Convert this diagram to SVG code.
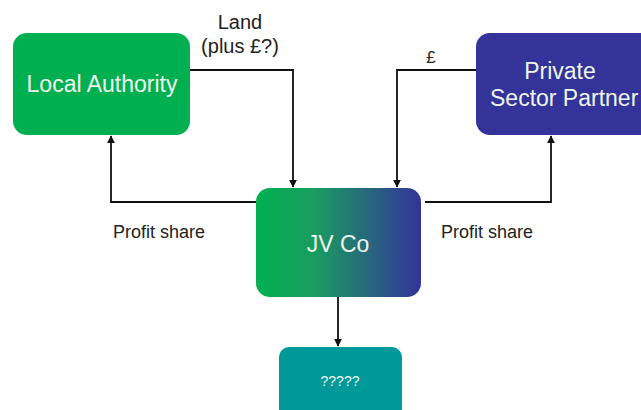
<svg xmlns="http://www.w3.org/2000/svg" width="641" height="410" viewBox="0 0 641 410">
<defs>
<linearGradient id="jvgrad" x1="0" y1="0" x2="1" y2="0">
<stop offset="0" stop-color="#00B050"/>
<stop offset="0.35" stop-color="#1a9d60"/>
<stop offset="1" stop-color="#333399"/>
</linearGradient>
<marker id="arr" viewBox="0 0 10 10" refX="9" refY="5" markerWidth="4.5" markerHeight="4.5" orient="auto-start-reverse" markerUnits="strokeWidth">
<path d="M0,0 L10,5 L0,10 z" fill="#111"/>
</marker>
</defs>
<style>
.node text{font-family:"Liberation Sans",Arial,sans-serif;fill:#EEF6EE;text-anchor:middle}
.lbl{font-family:"Liberation Sans",Arial,sans-serif;fill:#222}
.conn path{fill:none;stroke:#111;stroke-width:1.8;marker-end:url(#arr)}
</style>
<rect width="641" height="410" fill="#fff"/>
<g id="local-authority" class="node">
<rect x="13" y="33" width="177" height="102" rx="14" fill="#00B050"/>
<text x="102" y="92" font-size="23">Local Authority</text>
</g>
<g id="private-sector-partner" class="node">
<rect x="476" y="33" width="180" height="102" rx="14" fill="#333399"/>
<text x="560" y="79" font-size="23">Private</text>
<text x="490" y="106" font-size="23" style="text-anchor:start">Sector Partner</text>
</g>
<g id="jv-co" class="node">
<rect x="256" y="188" width="165" height="109" rx="14" fill="url(#jvgrad)"/>
<text x="338" y="252" font-size="23">JV Co</text>
</g>
<g id="unknown" class="node">
<rect x="279" y="347" width="123" height="75" rx="10" fill="#009999"/>
<text x="340" y="386" font-size="14">?????</text>
</g>
<g id="connectors" class="conn">
<path d="M190,70 H293 V187"/>
<path d="M476,70 H397 V187"/>
<path d="M256,202 H111 V136"/>
<path d="M425,202 H551 V136"/>
<path d="M338,297 V346"/>
</g>
<g id="labels">
<text class="lbl" x="240" y="29" font-size="20" text-anchor="middle">Land</text>
<text class="lbl" x="240" y="53" font-size="20" text-anchor="middle">(plus £?)</text>
<text class="lbl" x="431" y="63" font-size="17" text-anchor="middle">£</text>
<text class="lbl" x="113" y="238" font-size="18">Profit share</text>
<text class="lbl" x="441" y="238" font-size="18">Profit share</text>
</g>
</svg>
